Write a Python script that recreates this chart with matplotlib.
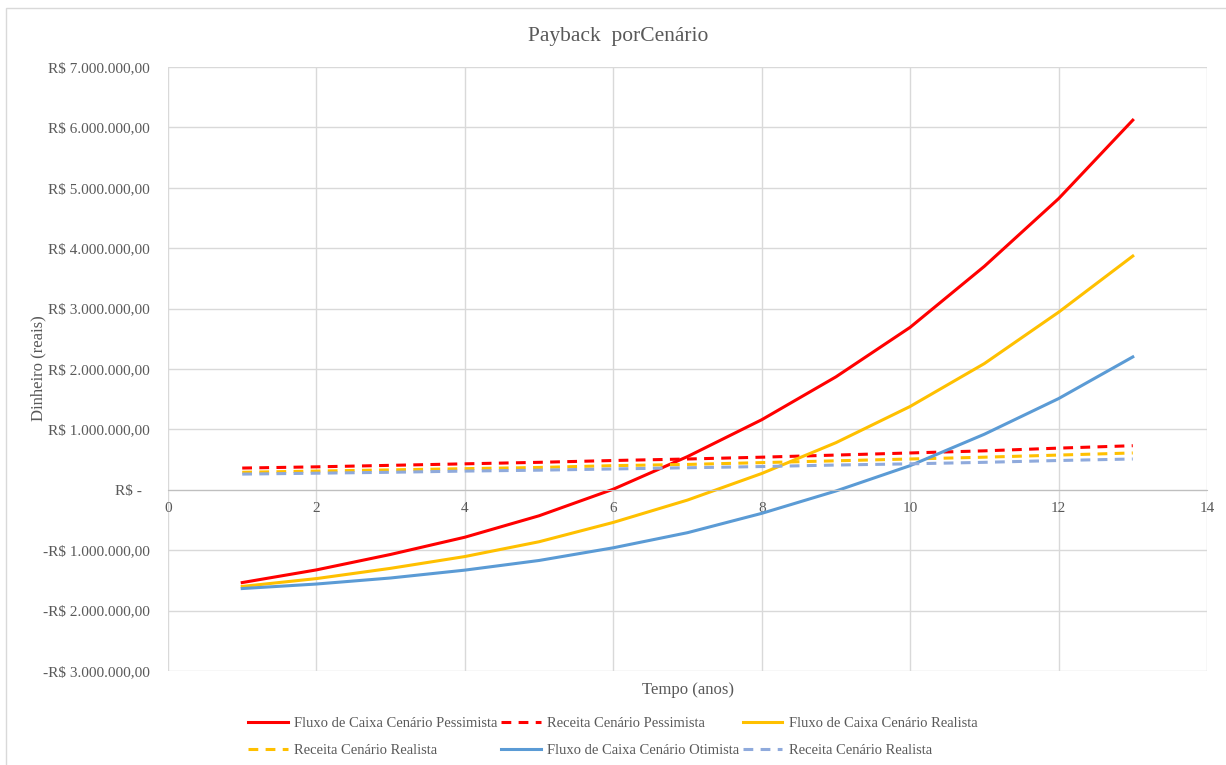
import matplotlib
matplotlib.use("Agg")
import matplotlib.pyplot as plt
from matplotlib.ticker import FuncFormatter, MultipleLocator
from matplotlib.patches import Rectangle

plt.rcParams['font.family'] = ['Liberation Serif', 'DejaVu Serif']

# dados (R$)
anos = [1, 2, 3, 4, 5, 6, 7, 8, 9, 10, 11, 12, 13]
fluxo_pess = [-1536000, -1326000, -1070000, -785000, -430000, 10000, 550000,
              1160000, 1870000, 2690000, 3700000, 4820000, 6120000]
receita_pess = [360000, 380000, 405000, 430000, 455000, 485000, 510000,
                540000, 575000, 610000, 645000, 690000, 730000]
fluxo_real = [-1600000, -1470000, -1300000, -1105000, -860000, -540000, -170000,
              270000, 780000, 1380000, 2090000, 2940000, 3870000]
receita_real = [290000, 310000, 330000, 350000, 370000, 400000, 420000,
                450000, 480000, 510000, 540000, 575000, 610000]
fluxo_otim = [-1635000, -1560000, -1460000, -1330000, -1170000, -960000, -710000,
              -390000, -20000, 400000, 920000, 1510000, 2200000]
receita_otim = [260000, 275000, 290000, 310000, 325000, 345000, 365000,
                385000, 410000, 430000, 455000, 485000, 510000]

cinza = '#595959'
vermelho = '#FF0000'
amarelo = '#FFC000'
azul = '#5B9BD5'
azul_claro = '#8FAADC'
tracejado = (0, (3.2, 2.4))

fig = plt.figure(figsize=(12.26, 7.65), dpi=100)
fig.patches.append(Rectangle((6/1226, -0.05), 1.2, 1 - 8/765 + 0.05, transform=fig.transFigure,
                             fill=False, edgecolor='#d9d9d9', linewidth=1.0))
ax = fig.add_axes([168/1226, 1 - 671/765, (1207 - 168)/1226, (671 - 67)/765])

l1, = ax.plot(anos, fluxo_pess, color=vermelho, lw=2.2, label='Fluxo de Caixa Cenário Pessimista')
l2, = ax.plot(anos, receita_pess, color=vermelho, lw=2.2, ls=tracejado, label='Receita Cenário Pessimista')
l3, = ax.plot(anos, fluxo_real, color=amarelo, lw=2.2, label='Fluxo de Caixa Cenário Realista')
l4, = ax.plot(anos, receita_real, color=amarelo, lw=2.2, ls=tracejado, label='Receita Cenário Realista')
l5, = ax.plot(anos, fluxo_otim, color=azul, lw=2.2, label='Fluxo de Caixa Cenário Otimista')
l6, = ax.plot(anos, receita_otim, color=azul_claro, lw=2.2, ls=tracejado, label='Receita Cenário Realista')

ax.set_xlim(0, 14)
ax.set_ylim(-3000000, 7000000)
ax.xaxis.set_major_locator(MultipleLocator(2))
ax.yaxis.set_major_locator(MultipleLocator(1000000))


def reais(v, pos):
    if abs(v) < 1:
        return 'R$ -  '
    s = '{:,.2f}'.format(abs(v)).replace(',', 'X').replace('.', ',').replace('X', '.')
    return ('-R$ ' if v < 0 else 'R$ ') + s


ax.yaxis.set_major_formatter(FuncFormatter(reais))
ax.grid(True, color='#d9d9d9', lw=1.0)
ax.set_axisbelow(True)
for s in ['top', 'right', 'left']:
    ax.spines[s].set_visible(False)
ax.spines['bottom'].set_position(('data', 0))
ax.spines['bottom'].set_color('#bfbfbf')
ax.tick_params(length=0, labelsize=11, colors=cinza)
ax.tick_params(axis='y', pad=13)
ax.tick_params(axis='x', pad=9)

fig.text(618/1226, 1 - 36/765, 'Payback  porCenário', fontsize=15.5, color=cinza,
         ha='center', va='center')
fig.text(38/1226, 1 - 368/765, 'Dinheiro (reais)', fontsize=12, color=cinza,
         ha='center', va='center', rotation=90)
ax.text(0.5, -0.018, 'Tempo (anos)', transform=ax.transAxes, ha='center', va='top',
        fontsize=12, color=cinza)

# ordem por coluna para ficar igual ao Excel (linha a linha)
handles = [l1, l4, l2, l5, l3, l6]
leg = fig.legend(handles=handles, labels=[h.get_label() for h in handles], ncol=3,
                 loc='center', bbox_to_anchor=(0.5, 1 - 737/765), frameon=False,
                 fontsize=10.5, handlelength=2.7, handletextpad=0.45, columnspacing=0.25,
                 labelspacing=0.9, labelcolor=cinza)

fig.savefig('out.png', dpi=100)
